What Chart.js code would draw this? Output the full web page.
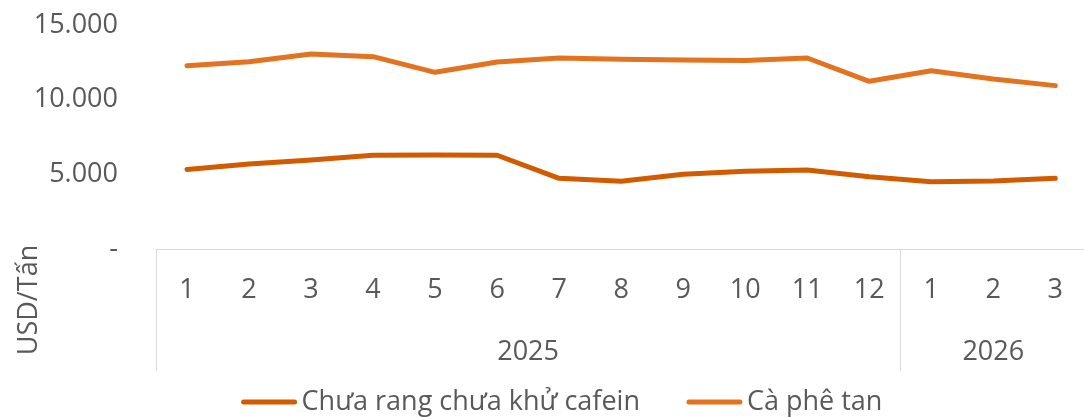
<!DOCTYPE html>
<html>
<head>
<meta charset="utf-8">
<script src="https://cdn.jsdelivr.net/npm/chart.js@4.4.0/dist/chart.umd.min.js"></script>
<style>
  html, body { margin: 0; padding: 0; background: #fff; overflow: hidden; }
  #wrap { width: 1084px; height: 417px; overflow: hidden; position: relative; }
  #chart { position: absolute; left: 0; top: 0; }
</style>
</head>
<body>
<div id="wrap"><canvas id="chart" width="1088" height="417"></canvas></div>
<script>
// Categories: months, grouped by year
const months = ["1", "2", "3", "4", "5", "6", "7", "8", "9", "10", "11", "12", "1", "2", "3"];
const years = ["2025", "2026"];
const yearSpans = [12, 3];

// Series values (USD/tan)
const unroasted = [5330, 5690, 5960, 6270, 6290, 6280, 4730, 4540, 5000, 5200, 5290, 4840, 4510, 4550, 4730];
const instant = [12270, 12540, 13060, 12880, 11830, 12520, 12790, 12710, 12660, 12630, 12790, 11230, 11940, 11380, 10940];

const seriesNames = ["Chưa rang chưa khử cafein", "Cà phê tan"];
const yTicks = [0, 5000, 10000, 15000];

const textColor = "#595959";
const fontFamily = "'Open Sans', sans-serif";

function formatNumber(v) {
  if (v === 0) return "-";
  return String(v).replace(/\B(?=(\d{3})+(?!\d))/g, ".");
}

// draws year row, group box lines, axis title and legend
const extras = {
  id: "extras",
  afterDraw(chart) {
    const ctx = chart.ctx;
    const area = chart.chartArea;
    const x = chart.scales.x;
    const boxBottom = 371;

    function edge(i) {
      if (i <= 0) return x.left;
      if (i >= months.length) return x.right;
      return (x.getPixelForValue(i - 1) + x.getPixelForValue(i)) / 2;
    }

    ctx.save();
    ctx.strokeStyle = "#d9d9d9";
    ctx.lineWidth = 1;
    ctx.beginPath();
    ctx.moveTo(area.left, Math.round(area.bottom) + 0.5);
    ctx.lineTo(area.right, Math.round(area.bottom) + 0.5);
    let start = 0;
    const bounds = [0];
    yearSpans.forEach(function (n) { start += n; bounds.push(start); });
    bounds.forEach(function (b) {
      const px = Math.round(edge(b)) + 0.5;
      ctx.moveTo(px, area.bottom);
      ctx.lineTo(px, boxBottom);
    });
    ctx.stroke();

    // year labels
    ctx.fillStyle = textColor;
    ctx.font = "27px " + fontFamily;
    ctx.textAlign = "center";
    ctx.textBaseline = "middle";
    years.forEach(function (yr, i) {
      const cx = (edge(bounds[i]) + edge(bounds[i + 1])) / 2;
      ctx.fillText(yr, cx, 352);
    });

    // y axis title
    ctx.save();
    ctx.translate(29, 300);
    ctx.rotate(-Math.PI / 2);
    ctx.fillText("USD/Tấn", 0, 0);
    ctx.restore();

    // legend
    const lineLen = 55, gapText = 5, gapItem = 47, legendY = 402;
    ctx.textAlign = "left";
    const items = chart.data.datasets.map(function (ds) {
      return { label: ds.label, color: ds.borderColor, w: ctx.measureText(ds.label).width };
    });
    let total = 0;
    items.forEach(function (it, i) { total += lineLen + gapText + it.w + (i ? gapItem : 0); });
    let lx = 562 - total / 2;
    items.forEach(function (it) {
      ctx.strokeStyle = it.color;
      ctx.lineWidth = 5;
      ctx.lineCap = "round";
      ctx.beginPath();
      ctx.moveTo(lx + 2, legendY);
      ctx.lineTo(lx + lineLen - 2, legendY);
      ctx.stroke();
      ctx.fillText(it.label, lx + lineLen + gapText, legendY);
      lx += lineLen + gapText + it.w + gapItem;
    });
    ctx.restore();
  }
};

new Chart(document.getElementById("chart"), {
  type: "line",
  data: {
    labels: months,
    datasets: [
      {
        label: seriesNames[0],
        data: unroasted,
        borderColor: "#D25B00",
        borderWidth: 5,
        borderCapStyle: "round",
        borderJoinStyle: "round",
        pointRadius: 0,
        tension: 0
      },
      {
        label: seriesNames[1],
        data: instant,
        borderColor: "#E47320",
        borderWidth: 5,
        borderCapStyle: "round",
        borderJoinStyle: "round",
        pointRadius: 0,
        tension: 0
      }
    ]
  },
  options: {
    responsive: false,
    animation: false,
    layout: { padding: { left: 32, top: 25, right: 0, bottom: 0 } },
    plugins: {
      legend: { display: false },
      tooltip: { enabled: false }
    },
    scales: {
      x: {
        offset: true,
        grid: { display: false, drawTicks: false },
        border: { display: false },
        ticks: {
          color: textColor,
          font: { family: fontFamily, size: 27 },
          padding: 25,
          maxRotation: 0,
          autoSkip: false
        },
        afterFit: function (scale) { scale.height = 168; }
      },
      y: {
        min: 0,
        max: 15000,
        grid: { display: false, drawTicks: false },
        border: { display: false },
        afterBuildTicks: function (scale) {
          scale.ticks = yTicks.map(function (v) { return { value: v }; });
        },
        ticks: {
          color: textColor,
          font: { family: fontFamily, size: 27 },
          padding: 38,
          callback: function (v) { return formatNumber(v); }
        },
        afterFit: function (scale) {
          scale.width = 124;
          // tick padding is meant horizontally only; keep it out of the top/bottom space
          scale.paddingTop = 16;
          scale.paddingBottom = 16;
        }
      }
    }
  },
  plugins: [extras]
});
</script>
</body>
</html>
